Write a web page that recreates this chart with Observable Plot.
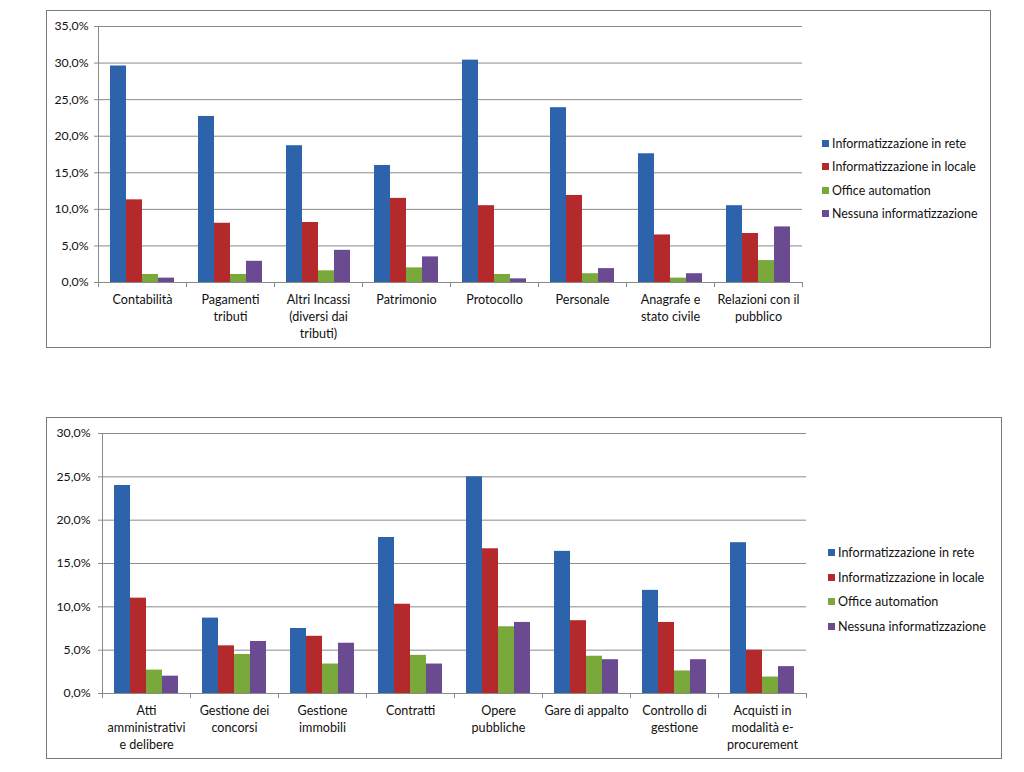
<!DOCTYPE html>
<html>
<head>
<meta charset="utf-8">
<script src="https://cdn.jsdelivr.net/npm/d3@7"></script>
<script src="https://cdn.jsdelivr.net/npm/@observablehq/plot@0.6"></script>
<style>
  html, body { margin: 0; padding: 0; background: #fff; }
  body { width: 1024px; height: 772px; position: relative; overflow: hidden; font-family: Lato, "Open Sans", sans-serif; color: #111; }
  .box { position: absolute; border: 1.6px solid #7a7a7a; box-sizing: border-box; }
  .chart { position: absolute; }
  .leg { position: absolute; white-space: nowrap; line-height: 16px; }
  .leg .sw { display: inline-block; width: 7px; height: 7px; margin-right: 3px; vertical-align: 1px; }
</style>
</head>
<body>
<div class="box" style="left:46px; top:10px; width:945px; height:338px;"></div>
<div class="box" style="left:46px; top:417px; width:956px; height:342px;"></div>
<div id="c1" class="chart" style="left:48px; top:12px;"></div>
<div id="c2" class="chart" style="left:48px; top:419px;"></div>
<script>
const series = ["Informatizzazione in rete", "Informatizzazione in locale", "Office automation", "Nessuna informatizzazione"];
const colors = ["#2d63ab", "#b3292c", "#7aa93b", "#6a4b92"];

// Chart 1
const categories1 = ["Contabilità", "Pagamenti tributi", "Altri Incassi (diversi dai tributi)", "Patrimonio", "Protocollo", "Personale", "Anagrafe e stato civile", "Relazioni con il pubblico"];
const labels1 = ["Contabilità", "Pagamenti\ntributi", "Altri Incassi\n(diversi dai\ntributi)", "Patrimonio", "Protocollo", "Personale", "Anagrafe e\nstato civile", "Relazioni con il\npubblico"];
const rete1 = [29.6, 22.7, 18.7, 16.0, 30.4, 23.9, 17.6, 10.5];
const locale1 = [11.3, 8.1, 8.2, 11.5, 10.5, 11.9, 6.5, 6.7];
const office1 = [1.1, 1.1, 1.6, 2.0, 1.1, 1.2, 0.6, 3.0];
const nessuna1 = [0.6, 2.9, 4.4, 3.5, 0.5, 1.9, 1.2, 7.6];
const yTicks1 = [0, 5, 10, 15, 20, 25, 30, 35];

// Chart 2
const categories2 = ["Atti amministrativi e delibere", "Gestione dei concorsi", "Gestione immobili", "Contratti", "Opere pubbliche", "Gare di appalto", "Controllo di gestione", "Acquisti in modalità e-procurement"];
const labels2 = ["Atti\namministrativi\ne delibere", "Gestione dei\nconcorsi", "Gestione\nimmobili", "Contratti", "Opere\npubbliche", "Gare di appalto", "Controllo di\ngestione", "Acquisti in\nmodalità e-\nprocurement"];
const rete2 = [24.0, 8.7, 7.5, 18.0, 25.0, 16.4, 11.9, 17.4];
const locale2 = [11.0, 5.5, 6.6, 10.3, 16.7, 8.4, 8.2, 5.0];
const office2 = [2.7, 4.5, 3.4, 4.4, 7.7, 4.3, 2.6, 1.9];
const nessuna2 = [2.0, 6.0, 5.8, 3.4, 8.2, 3.9, 3.9, 3.1];
const yTicks2 = [0, 5, 10, 15, 20, 25, 30];

const fmt = d => d.toFixed(1).replace(".", ",") + "%";
const gridColor = "#8a8a8a";

function chart({cats, labels, values, yTicks, width, height, marginLeft, marginTop, marginRight, marginBottom, tickPadding}) {
  const data = cats.flatMap((c, i) => series.map((s, j) => ({cat: c, s, v: values[j][i]})));
  const yMax = yTicks[yTicks.length - 1];
  return Plot.plot({
    width, height, marginLeft, marginTop, marginRight, marginBottom,
    style: {background: "transparent", fontFamily: "Lato, 'Open Sans', sans-serif", fontSize: "12px", color: "#111", overflow: "visible"},
    fx: {domain: cats, padding: 0, label: null, axis: null},
    x: {domain: series, paddingInner: 0, paddingOuter: 0.75, axis: null},
    y: {domain: [0, yMax], axis: null},
    color: {domain: series, range: colors},
    marks: [
      Plot.gridY(yTicks, {stroke: gridColor, strokeOpacity: 1, strokeWidth: 1}),
      Plot.barY(data, {fx: "cat", x: "s", y: "v", fill: "s"}),
      Plot.axisY(yTicks, {tickFormat: fmt, tickSize: 4, tickPadding, stroke: gridColor, fill: "#111", label: null, fontSize: 12.3}),
      Plot.ruleY([0], {stroke: gridColor}),
      Plot.ruleX(cats, {fx: d => d, x: () => series[0], y1: 0, y2: 0, insetBottom: -5, dx: -20, stroke: gridColor}),
      Plot.ruleX([cats[cats.length - 1]], {fx: d => d, x: () => series[3], y1: 0, y2: 0, insetBottom: -5, dx: 20, stroke: gridColor}),
      Plot.ruleX([cats[0]], {fx: d => d, x: () => series[0], y1: 0, y2: yMax, dx: -20, stroke: gridColor}),
      Plot.axisFx({anchor: "bottom", tickSize: 0, tickPadding: 9, tickFormat: d => labels[cats.indexOf(d)], lineHeight: 1.36, label: null, fill: "#111", fontSize: 12.6})
    ]
  });
}

document.getElementById("c1").appendChild(chart({
  cats: categories1, labels: labels1, values: [rete1, locale1, office1, nessuna1], yTicks: yTicks1,
  width: 766, height: 334, marginLeft: 50, marginTop: 14, marginRight: 12, marginBottom: 64, tickPadding: 6
}));
document.getElementById("c2").appendChild(chart({
  cats: categories2, labels: labels2, values: [rete2, locale2, office2, nessuna2], yTicks: yTicks2,
  width: 770, height: 338, marginLeft: 54, marginTop: 14, marginRight: 12, marginBottom: 64, tickPadding: 8
}));

function legend(left, top, gap, size) {
  series.forEach((s, i) => {
    const row = document.createElement("div");
    row.className = "leg";
    row.style.left = left + "px";
    row.style.top = (top + i * gap) + "px";
    row.style.fontSize = size + "px";
    const sw = document.createElement("span");
    sw.className = "sw";
    sw.style.background = colors[i];
    row.appendChild(sw);
    row.appendChild(document.createTextNode(s));
    document.body.appendChild(row);
  });
}
legend(822, 136, 23.3, 12.4);
legend(828, 545, 24.5, 12.6);
</script>
</body>
</html>
